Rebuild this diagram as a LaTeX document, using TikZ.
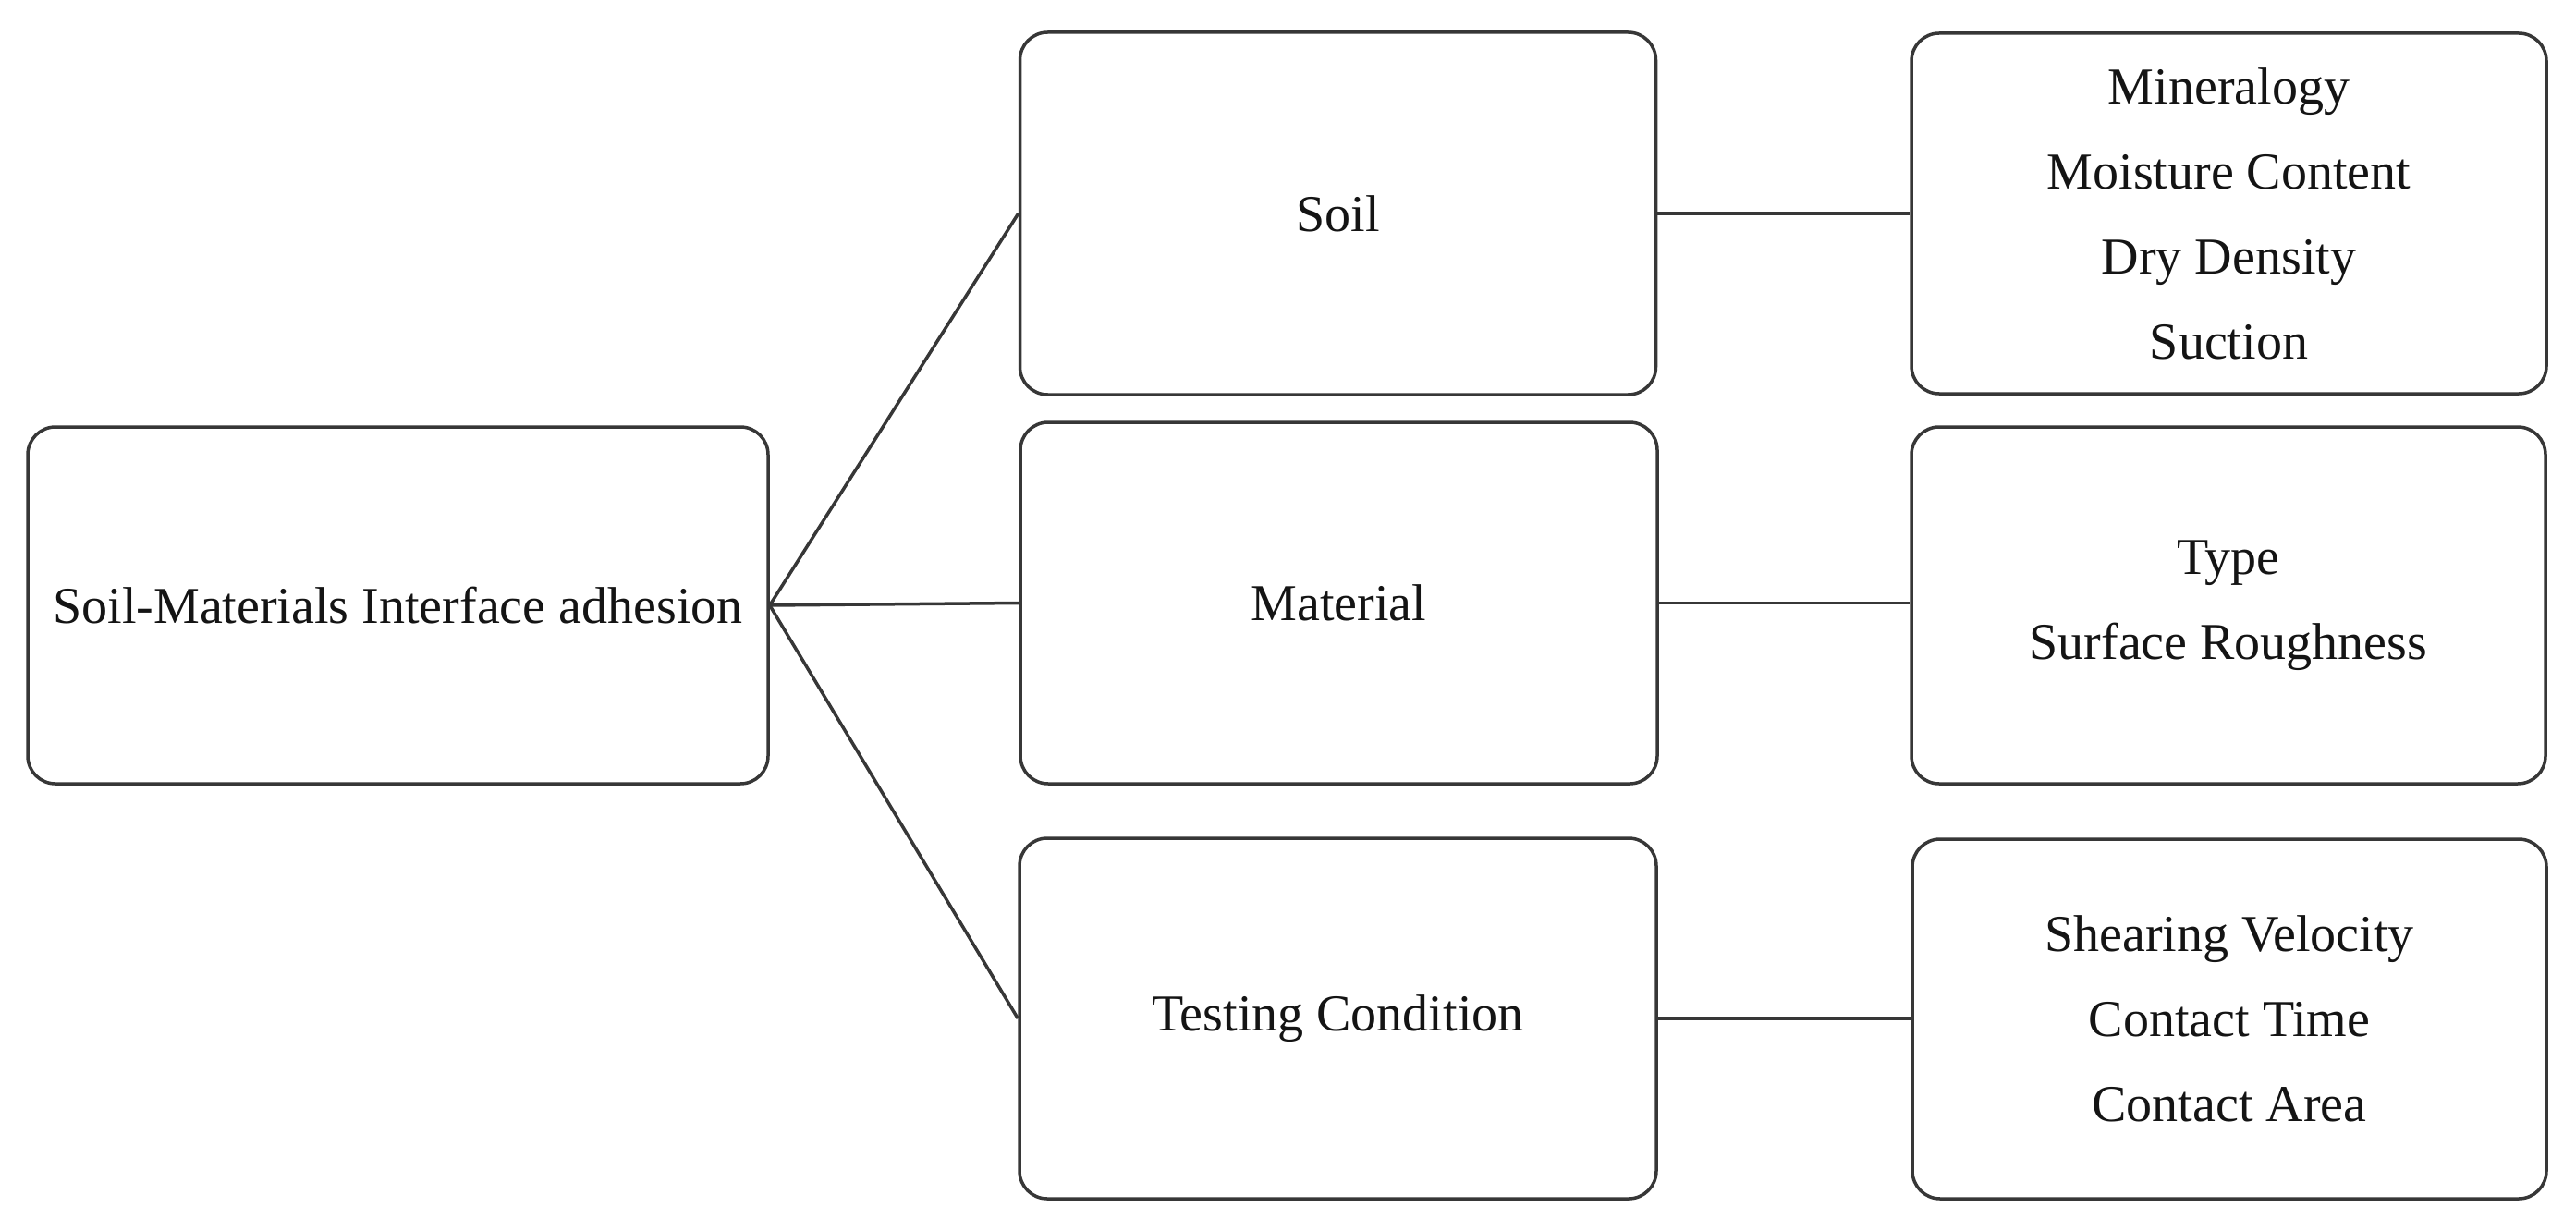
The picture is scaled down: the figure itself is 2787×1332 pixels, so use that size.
\documentclass[tikz,border=0pt]{standalone}
\usepackage{fontspec}
\setmainfont{Liberation Serif}
\definecolor{edge}{RGB}{55,55,55}
\definecolor{ink}{RGB}{20,20,20}
\begin{document}
\begin{tikzpicture}[x=1pt,y=-1pt,
  box/.style={draw=edge, line width=3.5pt, rounded corners=30pt, fill=white,
    inner sep=0pt, align=center, text=ink,
    font=\fontsize{56}{92}\selectfont},
  link/.style={draw=edge, line width=3.5pt}]
\useasboundingbox (0,0) rectangle (2787,1332);
\fill[white] (0,0) rectangle (2787,1332);
\node[box, minimum width=801pt, minimum height=386pt] (root) at (430.5,655) {Soil-Materials Interface adhesion};
\node[box, minimum width=688pt, minimum height=392pt] (soil) at (1447.5,231) {Soil};
\node[box, minimum width=689pt, minimum height=391pt] (mat) at (1448.5,652.5) {Material};
\node[box, minimum width=689pt, minimum height=390pt] (test) at (1447.5,1102) {Testing Condition};
\node[box, minimum width=687pt, minimum height=390pt] (soilp) at (2411.5,231) {Mineralogy\\Moisture Content\\Dry Density\\Suction};
\node[box, minimum width=686pt, minimum height=386pt] (matp) at (2411,655) {Type\\Surface Roughness};
\node[box, minimum width=686pt, minimum height=389pt] (testp) at (2412,1102.5) {Shearing Velocity\\Contact Time\\Contact Area};
\draw[link] (root.east) -- (soil.west);
\draw[link] (root.east) -- (mat.west);
\draw[link] (root.east) -- (test.west);
\draw[link] (soil.east) -- (soilp.west);
\draw[link] (mat.east) -- (matp.west |- mat.east);
\draw[link] (test.east) -- (testp.west |- test.east);
\end{tikzpicture}
\end{document}
